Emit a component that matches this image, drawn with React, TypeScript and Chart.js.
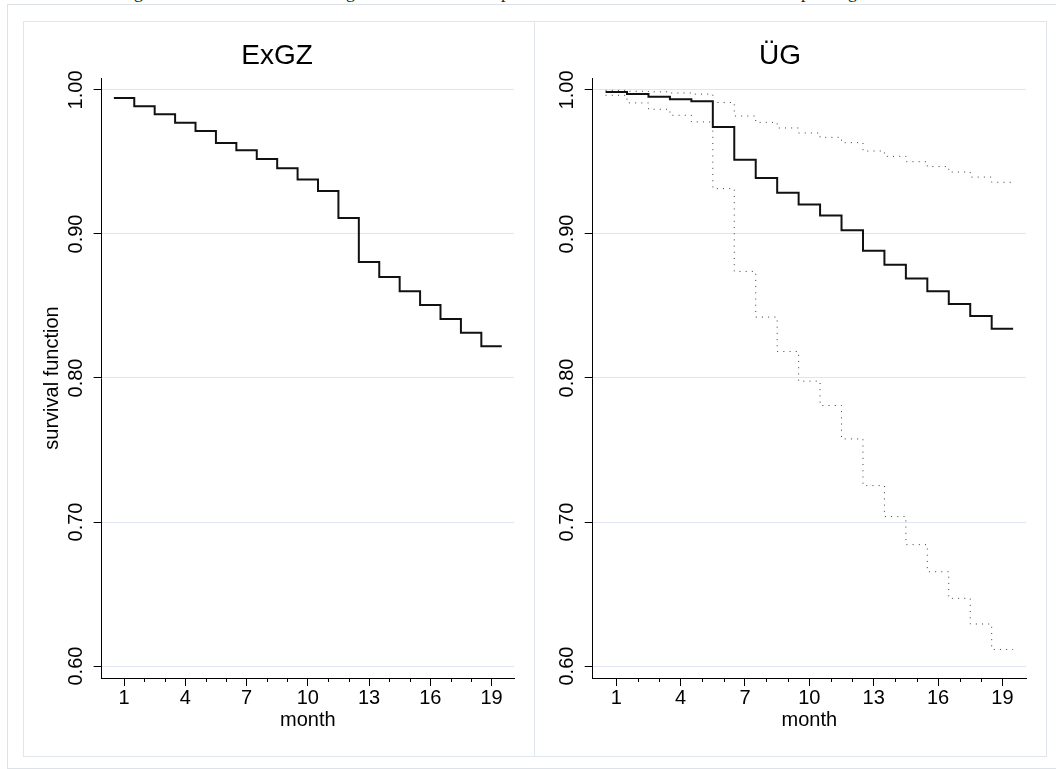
import React, { useEffect, useRef } from "react";
import { Chart, registerables } from "chart.js";

Chart.register(...registerables);

// ---- data ----
const months = [1, 2, 3, 4, 5, 6, 7, 8, 9, 10, 11, 12, 13, 14, 15, 16, 17, 18, 19];
const xTickValues = [1, 4, 7, 10, 13, 16, 19];
const xTickLabels = ["1", "4", "7", "10", "13", "16", "19"];
const yTickValues = [0.6, 0.7, 0.8, 0.9, 1.0];
const yTickLabels = ["0.60", "0.70", "0.80", "0.90", "1.00"];

const panelTitles = ["ExGZ", "ÜG"];
const yAxisTitle = "survival function";
const xAxisTitle = "month";

const exgzSurvival = [
  0.9945, 0.9887, 0.9831, 0.9773, 0.9715, 0.9632, 0.9581, 0.9521, 0.9456, 0.9379,
  0.9298, 0.9111, 0.8805, 0.8701, 0.8603, 0.8506, 0.841, 0.8314, 0.8221,
];
const ugSurvival = [
  0.9986, 0.9972, 0.9952, 0.9935, 0.9921, 0.9743, 0.9516, 0.9389, 0.9287, 0.9204,
  0.9129, 0.9026, 0.8884, 0.8786, 0.8691, 0.8602, 0.8513, 0.8431, 0.8342,
];
const ugUpper = [
  0.9997, 0.9991, 0.9987, 0.9979, 0.9971, 0.9913, 0.9819, 0.9775, 0.9736, 0.9701,
  0.9671, 0.9634, 0.9576, 0.9539, 0.9502, 0.9468, 0.943, 0.9395, 0.9359,
];
const ugLower = [
  0.9963, 0.991, 0.9866, 0.9824, 0.9778, 0.9315, 0.874, 0.8423, 0.8184, 0.7978,
  0.7809, 0.7577, 0.7253, 0.7038, 0.6843, 0.6655, 0.647, 0.6292, 0.6115,
];

// ---- styling ----
const FONT = "'Liberation Sans', Arial, Helvetica, sans-serif";
const GRID_COLOR = "#e0e5f1";
const FRAME_COLOR = "#e1e5ec";
const OUTER_COLOR = "#dde1e8";

function toSteps(values: number[]) {
  const pts = months.map((m, i) => ({ x: m - 0.5, y: values[i] }));
  const last = months.length - 1;
  pts.push({ x: months[last] + 0.5, y: values[last] });
  return pts;
}

const minorTicksPlugin = {
  id: "minorTicks",
  afterDraw(chart: any) {
    const xs = chart.scales.x;
    const ctx = chart.ctx;
    ctx.save();
    ctx.strokeStyle = "#000";
    ctx.lineWidth = 1;
    months.forEach((m) => {
      if (xTickValues.includes(m)) return;
      const px = Math.round(xs.getPixelForValue(m)) + 0.5;
      ctx.beginPath();
      ctx.moveTo(px, xs.top);
      ctx.lineTo(px, xs.top + 4);
      ctx.stroke();
    });
    ctx.restore();
  },
};

function solidSet(values: number[]) {
  return {
    data: toSteps(values),
    stepped: "before",
    borderColor: "#111",
    borderWidth: 2,
    pointRadius: 0,
    fill: false,
  };
}
function dottedSet(values: number[]) {
  return {
    data: toSteps(values),
    stepped: "before",
    borderColor: "rgba(40,40,40,0.9)",
    borderWidth: 1,
    borderDash: [1, 5.2],
    pointRadius: 0,
    fill: false,
  };
}

function makeConfig(title: string, datasets: any[], showYTitle: boolean, padLeft: number, yWidth: number) {
  return {
    type: "line",
    data: { datasets },
    plugins: [minorTicksPlugin],
    options: {
      animation: false,
      responsive: false,
      devicePixelRatio: 1,
      events: [],
      layout: { padding: { left: padLeft, right: 20, top: 0, bottom: 24 } },
      plugins: {
        legend: { display: false },
        tooltip: { enabled: false },
        title: {
          display: true,
          text: title,
          color: "#000",
          font: { family: FONT, size: 28, weight: "normal" },
          padding: { top: 18, bottom: 5.4 },
        },
      },
      scales: {
        x: {
          type: "linear",
          min: -0.1,
          max: 20.1,
          afterBuildTicks: (axis: any) => {
            axis.ticks = xTickValues.map((v) => ({ value: v }));
          },
          afterFit: (scale: any) => {
            scale.height = 54;
          },
          ticks: {
            autoSkip: false,
            maxRotation: 0,
            minRotation: 0,
            padding: 0,
            color: "#000",
            font: { family: FONT, size: 20 },
            callback: (value: number) => xTickLabels[xTickValues.indexOf(value)] ?? "",
          },
          grid: {
            drawOnChartArea: false,
            drawTicks: true,
            tickLength: 8,
            tickColor: "#000",
            tickWidth: 1,
          },
          border: { display: true, color: "#000", width: 1 },
          title: {
            display: true,
            text: xAxisTitle,
            color: "#000",
            font: { family: FONT, size: 20 },
            padding: { top: 0, bottom: 0 },
          },
        },
        y: {
          type: "linear",
          min: 0.5917,
          max: 1.0083,
          afterBuildTicks: (axis: any) => {
            axis.ticks = yTickValues.map((v) => ({ value: v }));
          },
          afterFit: (scale: any) => {
            scale.width = yWidth;
          },
          ticks: {
            autoSkip: false,
            minRotation: 90,
            maxRotation: 90,
            crossAlign: "center",
            padding: -2.5,
            color: "#000",
            font: { family: FONT, size: 20 },
            callback: (value: number) => {
              const i = yTickValues.findIndex((v) => Math.abs(v - value) < 1e-6);
              return i >= 0 ? yTickLabels[i] : "";
            },
          },
          grid: {
            color: GRID_COLOR,
            lineWidth: 1,
            drawTicks: true,
            tickLength: 8,
            tickColor: "#000",
            tickWidth: 1,
          },
          border: { display: true, color: "#000", width: 1 },
          title: {
            display: showYTitle,
            text: yAxisTitle,
            color: "#000",
            font: { family: FONT, size: 20 },
            padding: { top: 0, bottom: 0 },
          },
        },
      },
    },
  } as any;
}

function Panel({ config, left, width }: { config: any; left: number; width: number }) {
  const ref = useRef<HTMLCanvasElement | null>(null);
  useEffect(() => {
    if (!ref.current) return;
    const chart = new Chart(ref.current, config);
    return () => chart.destroy();
  }, [config]);
  return (
    <canvas
      ref={ref}
      width={width}
      height={735}
      style={{ position: "absolute", left, top: 21, width, height: 735, display: "block" }}
    />
  );
}

const leftConfig = makeConfig(panelTitles[0], [solidSet(exgzSurvival)], true, 17, 61.6);
const rightConfig = makeConfig(
  panelTitles[1],
  [dottedSet(ugUpper), dottedSet(ugLower), solidSet(ugSurvival)],
  false,
  0,
  58.7
);

export default function App() {
  return (
    <div
      style={{
        position: "absolute",
        left: 0,
        top: 0,
        width: 1056,
        height: 769,
        overflow: "hidden",
        background: "#fff",
      }}
    >
      {/* clipped descenders of a text line above the figure */}
      <div
        style={{
          position: "absolute",
          left: 0,
          top: 0,
          width: 1056,
          height: 3,
          overflow: "hidden",
          fontFamily: "'Liberation Serif', 'DejaVu Serif', serif",
          fontSize: 18,
          lineHeight: "18px",
          color: "#222",
        }}
      >
        <span style={{ position: "absolute", left: 134, top: -17 }}>g</span>
        <span style={{ position: "absolute", left: 346, top: -17 }}>g</span>
        <span style={{ position: "absolute", left: 501, top: -17 }}>p</span>
        <span style={{ position: "absolute", left: 801, top: -17 }}>p</span>
        <span style={{ position: "absolute", left: 848, top: -17 }}>g</span>
      </div>
      {/* outer page frame */}
      <div
        style={{
          position: "absolute",
          left: 7,
          top: 4,
          width: 1060,
          height: 763,
          borderTop: `1px solid ${OUTER_COLOR}`,
          borderLeft: `1px solid ${OUTER_COLOR}`,
          borderBottom: `1px solid ${OUTER_COLOR}`,
        }}
      />
      {/* combined graph frame */}
      <div
        style={{
          position: "absolute",
          left: 23,
          top: 21,
          width: 1022,
          height: 734,
          border: `1px solid ${FRAME_COLOR}`,
        }}
      />
      <Panel config={leftConfig} left={23} width={511} />
      <Panel config={rightConfig} left={534} width={512} />
      <div
        style={{
          position: "absolute",
          left: 534,
          top: 21,
          width: 1,
          height: 735,
          background: FRAME_COLOR,
        }}
      />
    </div>
  );
}
